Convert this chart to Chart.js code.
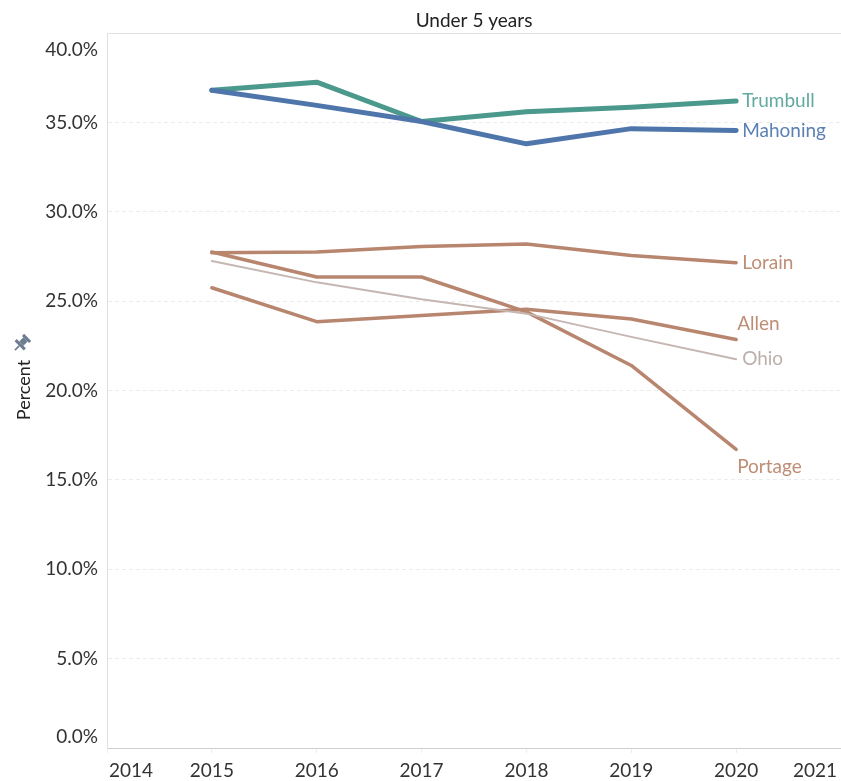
<!DOCTYPE html>
<html>
<head>
<meta charset="utf-8">
<script src="https://cdn.jsdelivr.net/npm/chart.js@4"></script>
<style>
  html, body { margin: 0; padding: 0; background: #fff; overflow: hidden; }
  #wrap { width: 841px; height: 781px; }
</style>
</head>
<body>
<div id="wrap"><canvas id="myChart" width="841" height="781"></canvas></div>
<script>
// datos
const years = [2015, 2016, 2017, 2018, 2019, 2020];
const trumbull = [36.8, 37.25, 35.05, 35.6, 35.85, 36.2];
const mahoning = [36.8, 35.95, 35.05, 33.8, 34.65, 34.55];
const lorain   = [27.7, 27.75, 28.05, 28.2, 27.55, 27.15];
const allen    = [25.75, 23.85, 24.2, 24.55, 24.0, 22.85];
const portage  = [27.75, 26.35, 26.35, 24.4, 21.4, 16.7];
const ohio     = [27.25, 26.05, 25.1, 24.3, 23.0, 21.75];
const xTicks = [2014, 2015, 2016, 2017, 2018, 2019, 2020, 2021];
const yTicks = [0, 5, 10, 15, 20, 25, 30, 35, 40];

const FONT = 'Lato, "Open Sans", sans-serif';

function pts(vals) {
    return years.map((y, i) => ({x: y, y: vals[i]}));
}

// orden: etiqueta, valores, color linea, color texto, grosor, desplazamiento etiqueta
const series = [
    ['Ohio', ohio, '#c6b6b2', '#bcaeaa', 2, 0],
    ['Portage', portage, '#b8866e', '#bf8d75', 3.5, 17],
    ['Allen', allen, '#b8866e', '#bf8d75', 3.5, -16],
    ['Lorain', lorain, '#b8866e', '#bf8d75', 3.5, 0],
    ['Mahoning', mahoning, '#4f76ab', '#5b80b6', 5, 0],
    ['Trumbull', trumbull, '#4a998c', '#62aa9f', 5, 0],
];

const datasets = series.map((s) => {
    return {
        label: s[0],
        data: pts(s[1]),
        borderColor: s[2],
        borderWidth: s[4],
        pointRadius: 0,
        tension: 0,
        borderCapStyle: 'round',
        borderJoinStyle: 'round',
        fill: false,
    };
});

const textos = {
    id: 'textos',
    afterDraw(chart) {
        const ctx = chart.ctx;
        const area = chart.chartArea;
        const xs = chart.scales.x;
        const ys = chart.scales.y;
        ctx.save();

        // linea superior
        ctx.strokeStyle = '#e3e3e3';
        ctx.lineWidth = 1;
        ctx.beginPath();
        ctx.moveTo(area.left, area.top + 0.5);
        ctx.lineTo(area.right, area.top + 0.5);
        ctx.stroke();

        // titulo
        ctx.fillStyle = '#222';
        ctx.font = '19px ' + FONT;
        ctx.textAlign = 'center';
        ctx.textBaseline = 'middle';
        ctx.fillText('Under 5 years', (area.left + area.right) / 2, 21);

        // etiquetas eje y
        ctx.font = '19px ' + FONT;
        ctx.fillStyle = '#333';
        ctx.textAlign = 'right';
        yTicks.forEach((v) => {
            let y = ys.getPixelForValue(v);
            y = Math.min(Math.max(y, area.top + 17), area.bottom - 11);
            ctx.fillText(v.toFixed(1) + '%', 98, y);
        });

        // etiquetas eje x
        ctx.textAlign = 'center';
        xTicks.forEach((v) => {
            const w = ctx.measureText(String(v)).width;
            let x = xs.getPixelForValue(v);
            x = Math.min(Math.max(x, area.left + w / 2 + 2), area.right - w / 2 - 4);
            ctx.fillText(String(v), x, 771);
        });

        // titulo eje y
        ctx.save();
        ctx.translate(24, 390);
        ctx.rotate(-Math.PI / 2);
        ctx.font = '18px ' + FONT;
        ctx.fillStyle = '#222';
        ctx.fillText('Percent', 0, 0);
        ctx.restore();

        // chinche
        ctx.save();
        ctx.translate(22, 343);
        ctx.rotate(Math.PI / 4);
        ctx.fillStyle = '#6e7d92';
        ctx.fillRect(-5, -8, 10, 3);
        ctx.fillRect(-3, -5, 6, 6);
        ctx.fillRect(-6.5, 1, 13, 3);
        ctx.fillRect(-0.8, 4, 1.6, 6);
        ctx.restore();

        // nombres al final de cada linea
        ctx.font = '19px ' + FONT;
        ctx.textAlign = 'left';
        series.forEach((s, i) => {
            const meta = chart.getDatasetMeta(i);
            const last = meta.data[meta.data.length - 1];
            ctx.fillStyle = s[3];
            const dx = s[5] === 0 ? 6 : 1;
            ctx.fillText(s[0], last.x + dx, last.y + s[5]);
        });
        ctx.restore();
    }
};

const config = {
    type: 'line',
    data: { datasets },
    options: {
        responsive: false,
        animation: false,
        events: [],
        layout: { padding: { top: 33, right: 0, left: 0, bottom: 0 } },
        plugins: { legend: { display: false }, title: { display: false }, tooltip: { enabled: false } },
        scales: {
            x: {
                type: 'linear',
                min: 2014,
                max: 2021,
                ticks: { display: false, stepSize: 1 },
                grid: { drawOnChartArea: false, drawTicks: true, tickLength: 5, tickColor: '#eeeeee' },
                border: { display: true, color: '#cfcfcf', width: 1 },
                afterFit(scale) { scale.height = 33; },
            },
            y: {
                min: 0,
                max: 40,
                ticks: { display: false, stepSize: 5 },
                grid: { color: (c) => (c.tick && c.tick.value === 0 ? 'rgba(0,0,0,0)' : '#ececec'), drawTicks: false },
                border: { display: true, color: '#e0e0e0', width: 1, dash: [4, 3] },
                afterFit(scale) { scale.width = 107; },
            },
        },
    },
    plugins: [textos],
};

const myChart = document.querySelector('#myChart');
new Chart(myChart, config);
</script>
</body>
</html>
